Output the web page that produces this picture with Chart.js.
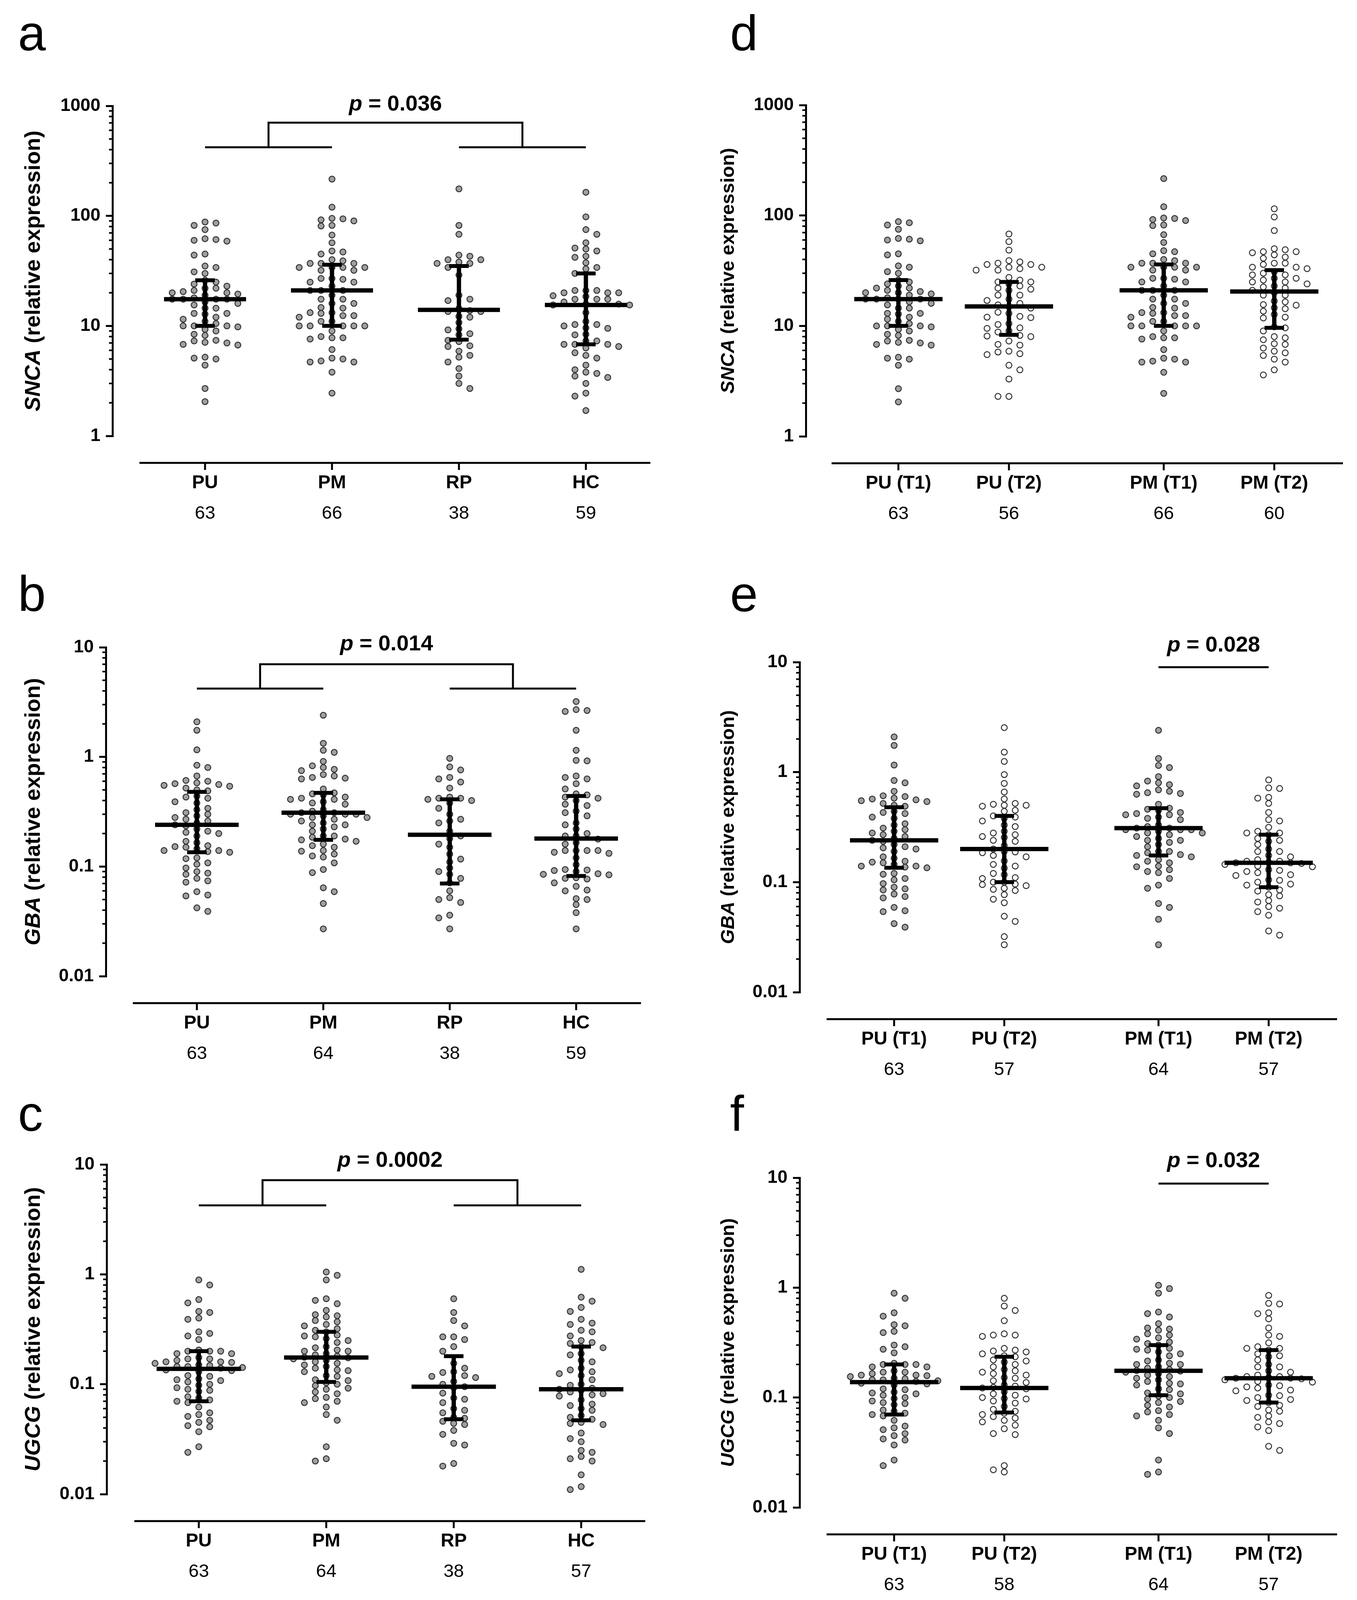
<!DOCTYPE html>
<html>
<head>
<meta charset="utf-8">
<script src="https://cdn.jsdelivr.net/npm/chart.js@4.4.1/dist/chart.umd.min.js"></script>
<style>
  html, body { margin: 0; padding: 0; background: #fff; }
  #page { position: relative; width: 3474px; height: 4120px; overflow: hidden; background: #fff; }
  #page canvas { position: absolute; }
</style>
</head>
<body>
<div id="page"></div>
<script>
const FONT = "'Liberation Sans', Arial, Helvetica, sans-serif";

// categories and counts
const groupsLeft = ['PU', 'PM', 'RP', 'HC'];
const groupsRight = ['PU (T1)', 'PU (T2)', 'PM (T1)', 'PM (T2)'];
const posLeft = [0, 1, 2, 3];
const posRight = [0, 1, 2.4, 3.4];
const nA = [63, 66, 38, 59];
const nD = [63, 56, 66, 60];
const nB = [63, 64, 38, 59];
const nE = [63, 57, 64, 57];
const nC = [63, 64, 38, 57];
const nF = [63, 58, 64, 57];

// tick labels
const ticksHigh = [1, 10, 100, 1000];
const ticksHighLabels = ['1', '10', '100', '1000'];
const ticksLow = [0.01, 0.1, 1, 10];
const ticksLowLabels = ['0.01', '0.1', '1', '10'];

// SNCA
const sncaPU = [88, 86, 82, 75, 62, 60, 59, 61, 45, 44, 35, 34, 31, 30, 26, 25, 24, 23, 22, 22, 21, 20.5, 20, 20, 19.5, 19, 18, 17.5, 17.5, 17.5, 17.5, 16.5, 16, 15.5, 14.5, 14.5, 13, 13, 12.8, 12, 11.5, 11, 10.5, 10, 10, 10, 9.8, 9.3, 9, 8.4, 8.2, 7.4, 7.3, 7.1, 7, 6.8, 6.7, 5.2, 5.1, 5, 4.4, 2.7, 2.05];
const sncaPM = [216, 120, 95, 94, 92, 90, 82, 81, 67, 57, 48, 47, 45, 40, 39, 37, 37, 37, 34, 34, 34, 34, 32, 32, 27, 27, 26.5, 25, 25, 23, 21, 21, 21, 19, 17.5, 17.5, 16, 16, 14.7, 14.5, 13.2, 13.2, 13, 12.4, 12.4, 12, 11, 11, 10, 10, 10, 10, 10, 9, 8, 7.8, 7.8, 7.6, 6.1, 5.1, 5, 4.8, 4.7, 4.7, 3.8, 2.45];
const sncaRP = [176, 82, 68, 44, 43, 40, 40, 38, 37, 37, 34, 29, 19, 17.5, 17, 14.4, 13.8, 13.5, 13.5, 12.2, 12, 10.7, 9.4, 9.2, 8.5, 8.3, 7.4, 7.2, 6.6, 6.5, 5.9, 5.4, 5.2, 4.7, 4.1, 3.5, 3.0, 2.7];
const sncaHC = [164, 98, 75, 68, 57, 51, 50, 48, 43, 42, 37.5, 34, 33, 30, 21, 21, 21, 20, 20, 20, 18.8, 18.5, 17.5, 17.5, 17.5, 16.5, 15.8, 15.8, 15.5, 15.5, 13.2, 11, 10.3, 10.3, 10, 9.6, 9.5, 8.4, 8.3, 7.3, 7.3, 6.8, 6.8, 6.8, 6.5, 6.3, 5.7, 5.4, 5.1, 4.4, 4, 3.8, 3.7, 3.5, 3.4, 3, 2.45, 2.3, 1.7];
const sncaPUT2 = [68, 58, 48.6, 39, 38, 37, 36, 36, 34, 34, 33, 32, 32, 27.5, 26, 25, 25, 24, 23, 22, 21.5, 21, 19, 19, 17.5, 17, 16, 15.5, 14.9, 14.5, 13.3, 13, 12.2, 12, 11.9, 10.5, 10.3, 9.6, 9.5, 9, 8.8, 8.2, 8.1, 8, 7.3, 6.8, 6.7, 5.9, 5.8, 5.6, 5.5, 4.4, 4, 3.3, 2.3, 2.3];
const sncaPMT2 = [115, 97, 73, 50, 49, 47, 47, 46, 44, 42, 41, 37, 37, 36, 34, 34, 33, 31, 30, 29, 29, 27, 27, 26, 25, 25, 24, 23, 22.5, 22, 21, 20, 19, 19, 16.8, 16.5, 15.6, 15.4, 14.6, 14.3, 13.6, 12.7, 12, 11.8, 9.8, 9.6, 9.0, 8, 7.8, 7.5, 6.9, 6.8, 6.3, 5.9, 5.7, 5.4, 5, 4.7, 4.0, 3.6];

// GBA
const gbaPU = [2.09, 1.75, 1.16, 0.84, 0.8, 0.67, 0.61, 0.6, 0.58, 0.57, 0.56, 0.55, 0.54, 0.52, 0.5, 0.49, 0.44, 0.43, 0.42, 0.39, 0.38, 0.34, 0.33, 0.31, 0.3, 0.29, 0.28, 0.27, 0.26, 0.25, 0.24, 0.235, 0.22, 0.21, 0.205, 0.2, 0.19, 0.17, 0.165, 0.155, 0.152, 0.15, 0.145, 0.14, 0.14, 0.137, 0.135, 0.12, 0.118, 0.108, 0.105, 0.097, 0.09, 0.087, 0.085, 0.078, 0.074, 0.072, 0.059, 0.055, 0.054, 0.042, 0.039];
const gbaPM = [2.4, 1.33, 1.15, 1.1, 0.91, 0.83, 0.8, 0.77, 0.75, 0.69, 0.67, 0.65, 0.64, 0.63, 0.51, 0.47, 0.46, 0.45, 0.43, 0.42, 0.41, 0.41, 0.39, 0.38, 0.37, 0.33, 0.32, 0.31, 0.31, 0.3, 0.3, 0.3, 0.29, 0.28, 0.28, 0.27, 0.26, 0.25, 0.24, 0.24, 0.23, 0.22, 0.21, 0.19, 0.19, 0.185, 0.178, 0.175, 0.17, 0.16, 0.155, 0.15, 0.14, 0.138, 0.13, 0.125, 0.122, 0.108, 0.094, 0.088, 0.064, 0.059, 0.046, 0.027];
const gbaRP = [0.97, 0.81, 0.76, 0.65, 0.63, 0.59, 0.52, 0.43, 0.42, 0.42, 0.41, 0.4, 0.38, 0.34, 0.3, 0.27, 0.26, 0.25, 0.21, 0.19, 0.18, 0.16, 0.15, 0.13, 0.117, 0.11, 0.097, 0.09, 0.085, 0.078, 0.071, 0.06, 0.052, 0.05, 0.047, 0.036, 0.034, 0.027];
const gbaHC = [3.2, 2.7, 2.65, 2.6, 1.75, 1.15, 0.93, 0.92, 0.67, 0.65, 0.63, 0.57, 0.51, 0.46, 0.45, 0.43, 0.42, 0.4, 0.37, 0.36, 0.32, 0.31, 0.29, 0.25, 0.24, 0.22, 0.2, 0.19, 0.19, 0.178, 0.165, 0.16, 0.14, 0.14, 0.14, 0.14, 0.135, 0.132, 0.12, 0.104, 0.094, 0.093, 0.092, 0.09, 0.086, 0.085, 0.084, 0.079, 0.078, 0.077, 0.071, 0.066, 0.061, 0.06, 0.051, 0.05, 0.045, 0.038, 0.027];
const gbaPUT2 = [2.54, 1.52, 1.25, 0.95, 0.79, 0.66, 0.57, 0.52, 0.51, 0.5, 0.5, 0.49, 0.45, 0.44, 0.4, 0.39, 0.38, 0.36, 0.33, 0.32, 0.29, 0.28, 0.27, 0.26, 0.255, 0.24, 0.235, 0.215, 0.2, 0.19, 0.188, 0.185, 0.175, 0.17, 0.156, 0.145, 0.14, 0.134, 0.12, 0.117, 0.11, 0.108, 0.1, 0.1, 0.096, 0.095, 0.093, 0.088, 0.086, 0.084, 0.077, 0.07, 0.065, 0.049, 0.044, 0.032, 0.027];
const gbaPMT2 = [0.85, 0.72, 0.71, 0.59, 0.58, 0.52, 0.43, 0.37, 0.36, 0.315, 0.29, 0.28, 0.28, 0.27, 0.25, 0.24, 0.235, 0.22, 0.2, 0.19, 0.19, 0.175, 0.17, 0.16, 0.155, 0.155, 0.152, 0.15, 0.15, 0.148, 0.145, 0.14, 0.138, 0.13, 0.128, 0.125, 0.122, 0.117, 0.115, 0.105, 0.104, 0.1, 0.096, 0.094, 0.09, 0.085, 0.083, 0.077, 0.075, 0.068, 0.066, 0.06, 0.058, 0.054, 0.05, 0.036, 0.033];

// UGCG
const ugcgPU = [0.89, 0.8, 0.59, 0.55, 0.46, 0.45, 0.4, 0.39, 0.3, 0.29, 0.275, 0.255, 0.205, 0.2, 0.2, 0.2, 0.19, 0.19, 0.175, 0.17, 0.17, 0.165, 0.16, 0.16, 0.158, 0.155, 0.15, 0.148, 0.145, 0.145, 0.142, 0.14, 0.135, 0.133, 0.13, 0.12, 0.118, 0.112, 0.11, 0.108, 0.105, 0.1, 0.098, 0.093, 0.09, 0.088, 0.086, 0.077, 0.075, 0.072, 0.07, 0.068, 0.062, 0.055, 0.053, 0.051, 0.047, 0.045, 0.042, 0.041, 0.037, 0.027, 0.024];
const ugcgPM = [1.05, 0.98, 0.89, 0.6, 0.58, 0.54, 0.47, 0.43, 0.42, 0.41, 0.38, 0.37, 0.35, 0.34, 0.32, 0.31, 0.3, 0.28, 0.275, 0.27, 0.26, 0.25, 0.24, 0.22, 0.215, 0.205, 0.2, 0.2, 0.19, 0.185, 0.18, 0.176, 0.174, 0.17, 0.165, 0.16, 0.155, 0.15, 0.145, 0.14, 0.135, 0.133, 0.13, 0.12, 0.118, 0.11, 0.108, 0.103, 0.1, 0.097, 0.092, 0.09, 0.085, 0.082, 0.076, 0.074, 0.07, 0.068, 0.062, 0.053, 0.047, 0.027, 0.021, 0.02];
const ugcgRP = [0.6, 0.45, 0.38, 0.34, 0.27, 0.27, 0.255, 0.22, 0.2, 0.155, 0.14, 0.13, 0.128, 0.12, 0.118, 0.115, 0.106, 0.1, 0.095, 0.093, 0.083, 0.075, 0.073, 0.068, 0.06, 0.058, 0.055, 0.05, 0.049, 0.046, 0.044, 0.043, 0.038, 0.035, 0.029, 0.028, 0.019, 0.018];
const ugcgHC = [1.11, 0.62, 0.57, 0.5, 0.46, 0.39, 0.36, 0.35, 0.31, 0.3, 0.275, 0.25, 0.24, 0.235, 0.22, 0.215, 0.19, 0.185, 0.165, 0.16, 0.14, 0.135, 0.13, 0.125, 0.12, 0.11, 0.1, 0.098, 0.092, 0.09, 0.088, 0.085, 0.082, 0.08, 0.078, 0.072, 0.066, 0.064, 0.06, 0.058, 0.052, 0.05, 0.048, 0.045, 0.044, 0.043, 0.036, 0.032, 0.03, 0.025, 0.024, 0.022, 0.021, 0.02, 0.015, 0.0117, 0.011];
const ugcgPUT2 = [0.8, 0.68, 0.62, 0.5, 0.38, 0.37, 0.37, 0.36, 0.28, 0.27, 0.265, 0.26, 0.25, 0.24, 0.235, 0.22, 0.215, 0.21, 0.2, 0.19, 0.18, 0.175, 0.17, 0.165, 0.16, 0.152, 0.15, 0.142, 0.137, 0.13, 0.127, 0.124, 0.122, 0.12, 0.113, 0.108, 0.105, 0.1, 0.098, 0.097, 0.093, 0.089, 0.083, 0.078, 0.075, 0.072, 0.07, 0.067, 0.065, 0.062, 0.06, 0.056, 0.052, 0.047, 0.046, 0.024, 0.022, 0.021];
const ugcgPMT2 = [0.85, 0.72, 0.71, 0.59, 0.58, 0.52, 0.43, 0.37, 0.36, 0.315, 0.29, 0.28, 0.28, 0.27, 0.25, 0.24, 0.235, 0.22, 0.2, 0.19, 0.19, 0.175, 0.17, 0.16, 0.155, 0.155, 0.152, 0.15, 0.15, 0.148, 0.145, 0.14, 0.138, 0.13, 0.128, 0.125, 0.122, 0.117, 0.115, 0.105, 0.104, 0.1, 0.096, 0.094, 0.09, 0.085, 0.083, 0.077, 0.075, 0.068, 0.066, 0.06, 0.058, 0.054, 0.05, 0.036, 0.033];

// medians and interquartile ranges
const sncaMedL = [17.5, 21, 14, 15.5];
const sncaLoL = [10, 10, 7.5, 6.8];
const sncaHiL = [26, 36, 35, 30];
const sncaMedR = [17.5, 15, 21, 20.5];
const sncaLoR = [10, 8.3, 10, 9.6];
const sncaHiR = [26, 25, 36, 32];
const gbaMedL = [0.24, 0.31, 0.195, 0.18];
const gbaLoL = [0.135, 0.175, 0.07, 0.082];
const gbaHiL = [0.48, 0.47, 0.41, 0.44];
const gbaMedR = [0.24, 0.2, 0.31, 0.15];
const gbaLoR = [0.135, 0.1, 0.175, 0.09];
const gbaHiR = [0.48, 0.4, 0.47, 0.27];
const ugcgMedL = [0.138, 0.175, 0.095, 0.09];
const ugcgLoL = [0.07, 0.105, 0.048, 0.047];
const ugcgHiL = [0.2, 0.3, 0.18, 0.22];
const ugcgMedR = [0.138, 0.122, 0.175, 0.15];
const ugcgLoR = [0.07, 0.073, 0.105, 0.09];
const ugcgHiR = [0.2, 0.235, 0.3, 0.27];

// p values
const pValues = ['0.036', '0.014', '0.0002', '0.028', '0.032'];

const X_H = 160, X2_H = 70;
const allFilled = [false, false, false, false];
const openRight = [false, true, false, true];

const panels = [
  { letter: 'a', gene: 'SNCA', box: [0, 0, 1737, 1380], axisX: 288, yTop: 271, yBot: 1116, xRight: 1665,
    xMin: -0.729, xMax: 3.508, lineStart: -0.517, cats: groupsLeft, pos: posLeft, n: nA, open: allFilled,
    series: [sncaPU, sncaPM, sncaRP, sncaHC], med: sncaMedL, lo: sncaLoL, hi: sncaHiL,
    yMin: 1, yMax: 1000, ticks: ticksHigh, tickLabels: ticksHighLabels,
    p: { text: pValues[0], y: 1030, bracket: [420, 703] }, titleX: 87, titleSize: 56, hw: 105, letterAt: [46, 129] },
  { letter: 'd', gene: 'SNCA', box: [1737, 0, 1737, 1380], axisX: 2063, yTop: 269, yBot: 1117, xRight: 3438,
    xMin: -0.837, xMax: 4.021, lineStart: -0.604, cats: groupsRight, pos: posRight, n: nD, open: openRight,
    series: [sncaPU, sncaPUT2, sncaPM, sncaPMT2], med: sncaMedR, lo: sncaLoR, hi: sncaHiR,
    yMin: 1, yMax: 1000, ticks: ticksHigh, tickLabels: ticksHighLabels,
    p: null, titleX: 1865, titleSize: 49, hw: 113, letterAt: [1869, 129] },
  { letter: 'b', gene: 'GBA', box: [0, 1380, 1737, 1400], axisX: 271, yTop: 1657, yBot: 2499, xRight: 1641,
    xMin: -0.72, xMax: 3.513, lineStart: -0.507, cats: groupsLeft, pos: posLeft, n: nB, open: allFilled,
    series: [gbaPU, gbaPM, gbaRP, gbaHC], med: gbaMedL, lo: gbaLoL, hi: gbaHiL,
    yMin: 0.01, yMax: 10, ticks: ticksLow, tickLabels: ticksLowLabels,
    p: { text: pValues[1], y: 10.6, bracket: [4.2, 7.0] }, titleX: 87, titleSize: 56, hw: 107, letterAt: [46, 1564] },
  { letter: 'e', gene: 'GBA', box: [1737, 1380, 1737, 1400], axisX: 2047, yTop: 1695, yBot: 2540, xRight: 3423,
    xMin: -0.858, xMax: 4.021, lineStart: -0.613, cats: groupsRight, pos: posRight, n: nE, open: openRight,
    series: [gbaPU, gbaPUT2, gbaPM, gbaPMT2], med: gbaMedR, lo: gbaLoR, hi: gbaHiR,
    yMin: 0.01, yMax: 10, ticks: ticksLow, tickLabels: ticksLowLabels,
    p: { text: pValues[3], y: 14.2, line: 9.0 }, titleX: 1865, titleSize: 49, hw: 113, letterAt: [1869, 1565] },
  { letter: 'c', gene: 'UGCG', box: [0, 2780, 1737, 1340], axisX: 273, yTop: 2981, yBot: 3825, xRight: 1652,
    xMin: -0.723, xMax: 3.503, lineStart: -0.506, cats: groupsLeft, pos: posLeft, n: nC, open: allFilled,
    series: [ugcgPU, ugcgPM, ugcgRP, ugcgHC], med: ugcgMedL, lo: ugcgLoL, hi: ugcgHiL,
    yMin: 0.01, yMax: 10, ticks: ticksLow, tickLabels: ticksLowLabels,
    p: { text: pValues[2], y: 10.8, bracket: [4.24, 7.2] }, titleX: 87, titleSize: 56, hw: 108, letterAt: [46, 2895] },
  { letter: 'f', gene: 'UGCG', box: [1737, 2780, 1737, 1340], axisX: 2047, yTop: 3015, yBot: 3859, xRight: 3423,
    xMin: -0.858, xMax: 4.021, lineStart: -0.613, cats: groupsRight, pos: posRight, n: nF, open: openRight,
    series: [ugcgPU, ugcgPUT2, ugcgPM, ugcgPMT2], med: ugcgMedR, lo: ugcgLoR, hi: ugcgHiR,
    yMin: 0.01, yMax: 10, ticks: ticksLow, tickLabels: ticksLowLabels,
    p: { text: pValues[4], y: 14.2, line: 8.85 }, titleX: 1865, titleSize: 49, hw: 113, letterAt: [1869, 2895] }
];

function seg(ctx, x1, y1, x2, y2, w) {
  ctx.lineWidth = w;
  ctx.beginPath();
  ctx.moveTo(x1, y1);
  ctx.lineTo(x2, y2);
  ctx.stroke();
}

// simple beeswarm: spreads points sideways so dots don't overlap
function swarm(ys, step, minDy) {
  const order = ys.map((_, i) => i).sort((a, b) => ys[a] - ys[b]);
  const placed = [];
  const offs = new Array(ys.length).fill(0);
  let flip = 1;
  for (const i of order) {
    const y = ys[i];
    const near = placed.filter(p => Math.abs(p.y - y) < minDy);
    let chosen = 0;
    for (let k = 0; k < 80; k++) {
      const d = k * step / 2;
      const cands = k === 0 ? [0] : [flip * d, -flip * d];
      const ok = cands.find(c => near.every(p => Math.abs(p.x - c) >= step - 0.5));
      if (ok !== undefined) { chosen = ok; break; }
    }
    if (chosen !== 0) flip = -Math.sign(chosen);
    placed.push({ x: chosen, y });
    offs[i] = chosen;
  }
  return offs;
}

function overlay(P) {
  const [bx, by] = P.box;
  return {
    id: 'overlay',
    afterDatasetsDraw(chart) {
      const { ctx, scales: { x, y } } = chart;
      ctx.save();
      ctx.strokeStyle = '#000';
      ctx.lineCap = 'butt';
      P.pos.forEach((p, i) => {
        const px = x.getPixelForValue(p);
        const yl = y.getPixelForValue(P.lo[i]);
        const yh = y.getPixelForValue(P.hi[i]);
        const ym = y.getPixelForValue(P.med[i]);
        seg(ctx, px, yl, px, yh, 11);
        seg(ctx, px - 25, yl, px + 25, yl, 10);
        seg(ctx, px - 25, yh, px + 25, yh, 10);
        seg(ctx, px - P.hw, ym, px + P.hw, ym, 11);
      });
      ctx.restore();
    },
    afterDraw(chart) {
      const { ctx, chartArea: ca, scales: { x, y } } = chart;
      ctx.save();
      ctx.strokeStyle = '#000';
      ctx.fillStyle = '#000';
      ctx.lineCap = 'butt';

      // minor log ticks
      P.ticks.slice(0, -1).forEach(d => {
        for (let k = 2; k <= 9; k++) {
          const py = y.getPixelForValue(d * k);
          seg(ctx, ca.left - 9, py, ca.left, py, 4);
        }
      });

      // detached x axis
      const yAx = ca.bottom + 69;
      seg(ctx, x.getPixelForValue(P.lineStart), yAx, ca.right, yAx, 5);
      P.pos.forEach(p => {
        const px = x.getPixelForValue(p);
        seg(ctx, px, yAx - 2, px, yAx + 18, 5);
      });

      // significance bracket
      if (P.p) {
        let cx;
        ctx.lineJoin = 'miter';
        if (P.p.bracket) {
          const yl = y.getPixelForValue(P.p.bracket[0]);
          const yu = y.getPixelForValue(P.p.bracket[1]);
          const mids = [[0, 1], [2, 3]].map(([a, b]) => {
            const xa = x.getPixelForValue(P.pos[a]);
            const xb = x.getPixelForValue(P.pos[b]);
            seg(ctx, xa, yl, xb, yl, 5);
            return (xa + xb) / 2;
          });
          ctx.lineWidth = 5;
          ctx.beginPath();
          ctx.moveTo(mids[0], yl);
          ctx.lineTo(mids[0], yu);
          ctx.lineTo(mids[1], yu);
          ctx.lineTo(mids[1], yl);
          ctx.stroke();
          cx = (mids[0] + mids[1]) / 2;
        } else {
          const yl = y.getPixelForValue(P.p.line);
          const xa = x.getPixelForValue(P.pos[2]);
          const xb = x.getPixelForValue(P.pos[3]);
          seg(ctx, xa, yl, xb, yl, 5);
          cx = (xa + xb) / 2;
        }
        const py = y.getPixelForValue(P.p.y);
        const fI = `italic bold 56px ${FONT}`;
        const fB = `bold 56px ${FONT}`;
        const rest = ' = ' + P.p.text;
        ctx.font = fI;
        const w1 = ctx.measureText('p').width;
        ctx.font = fB;
        const w2 = ctx.measureText(rest).width;
        ctx.textBaseline = 'middle';
        ctx.textAlign = 'left';
        const sx = cx - (w1 + w2) / 2;
        ctx.font = fI;
        ctx.fillText('p', sx, py);
        ctx.font = fB;
        ctx.fillText(rest, sx + w1, py);
      }

      // y axis title
      const s = P.titleSize;
      const fG = `italic bold ${s}px ${FONT}`;
      const fR = `bold ${s}px ${FONT}`;
      const tail = ' (relative expression)';
      ctx.save();
      ctx.translate(P.titleX - bx, (ca.top + ca.bottom) / 2);
      ctx.rotate(-Math.PI / 2);
      ctx.font = fG;
      const g1 = ctx.measureText(P.gene).width;
      ctx.font = fR;
      const g2 = ctx.measureText(tail).width;
      ctx.textBaseline = 'middle';
      ctx.textAlign = 'left';
      ctx.font = fG;
      ctx.fillText(P.gene, -(g1 + g2) / 2, 0);
      ctx.font = fR;
      ctx.fillText(tail, -(g1 + g2) / 2 + g1, 0);
      ctx.restore();

      // panel letter
      ctx.font = `128px ${FONT}`;
      ctx.textBaseline = 'alphabetic';
      ctx.textAlign = 'left';
      ctx.fillText(P.letter, P.letterAt[0] - bx, P.letterAt[1] - by);
      ctx.restore();
    }
  };
}

const page = document.getElementById('page');

panels.forEach(P => {
  const [bx, by, bw, bh] = P.box;
  const cv = document.createElement('canvas');
  cv.width = bw;
  cv.height = bh;
  cv.style.left = bx + 'px';
  cv.style.top = by + 'px';
  cv.style.width = bw + 'px';
  cv.style.height = bh + 'px';
  page.appendChild(cv);

  const yW = P.axisX - bx;
  const padTop = P.yTop - by;
  const padRight = bx + bw - P.xRight;
  const padBottom = bh - (P.yBot - by) - X_H - X2_H;

  const datasets = P.series.map((vals, i) => ({
    data: vals.map(v => ({ x: P.pos[i], y: v })),
    pointRadius: 7.5,
    pointHoverRadius: 7.5,
    pointBackgroundColor: P.open[i] ? '#ffffff' : '#a0a0a0',
    pointBorderColor: '#333333',
    pointBorderWidth: 2.5,
    showLine: false,
    clip: false
  }));

  const setTicks = s => { s.ticks = P.pos.map(v => ({ value: v })); };

  const chart = new Chart(cv, {
    type: 'scatter',
    data: { datasets },
    options: {
      responsive: false,
      animation: false,
      devicePixelRatio: 1,
      events: [],
      layout: { padding: { left: 0, top: padTop, right: padRight, bottom: padBottom } },
      plugins: { legend: { display: false }, tooltip: { enabled: false } },
      scales: {
        x: {
          type: 'linear', position: 'bottom', weight: 0, min: P.xMin, max: P.xMax,
          grid: { display: false, drawTicks: false },
          border: { display: false },
          afterBuildTicks: setTicks,
          afterFit: s => { s.height = X_H; },
          ticks: {
            autoSkip: false, maxRotation: 0, minRotation: 0, padding: 121 - 0.6 * 48, color: '#000',
            font: { family: FONT, size: 48, weight: 'bold' },
            callback: (v, i) => P.cats[i]
          }
        },
        x2: {
          type: 'linear', position: 'bottom', weight: 1, min: P.xMin, max: P.xMax,
          grid: { display: false, drawTicks: false },
          border: { display: false },
          afterBuildTicks: setTicks,
          afterFit: s => { s.height = X2_H; },
          ticks: {
            autoSkip: false, maxRotation: 0, minRotation: 0, padding: 199 - X_H - 0.6 * 47, color: '#000',
            font: { family: FONT, size: 47, weight: 'normal' },
            callback: (v, i) => String(P.n[i])
          }
        },
        y: {
          type: 'logarithmic', min: P.yMin, max: P.yMax,
          afterBuildTicks: s => { s.ticks = P.ticks.map(v => ({ value: v })); },
          afterFit: s => { s.width = yW; },
          grid: { display: true, drawOnChartArea: false, drawTicks: true, tickLength: 17, lineWidth: 5, color: '#000' },
          border: { display: true, width: 5, color: '#000' },
          ticks: {
            padding: 14, color: '#000',
            font: { family: FONT, size: 46, weight: 'bold' },
            callback: (v, i) => P.tickLabels[i]
          }
        }
      }
    },
    plugins: [overlay(P)]
  });

  // spread the dots of each group once the scales are known
  const xs = chart.scales.x, ys = chart.scales.y;
  const unit = xs.getPixelForValue(1) - xs.getPixelForValue(0);
  P.series.forEach((vals, i) => {
    const offs = swarm(vals.map(v => ys.getPixelForValue(v)), 28, 15);
    chart.data.datasets[i].data = vals.map((v, j) => ({ x: P.pos[i] + offs[j] / unit, y: v }));
  });
  chart.update('none');
});
</script>
</body>
</html>
